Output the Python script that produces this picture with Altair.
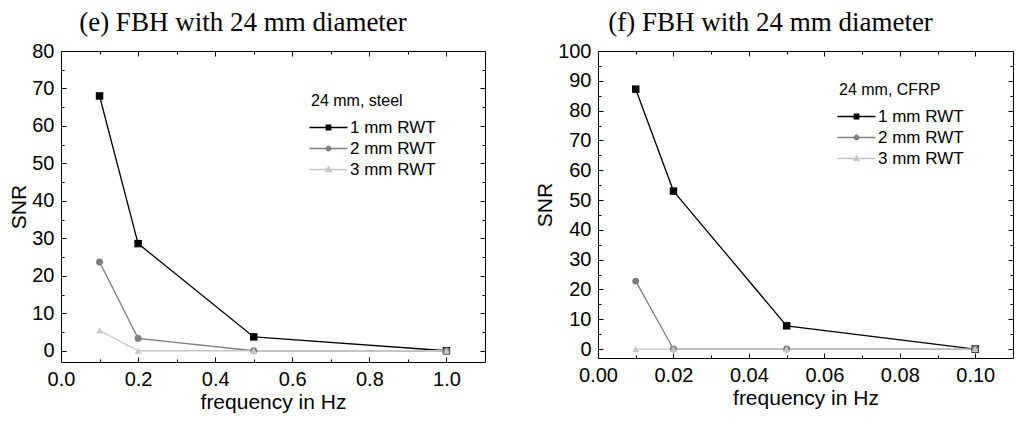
import altair as alt
import pandas as pd

SERIES = ["1 mm RWT", "2 mm RWT", "3 mm RWT"]
COLORS = ["#000000", "#7f7f7f", "#c6c6c6"]
SHAPES = ["square", "circle", "triangle-up"]
SIZES = [56, 48, 50]

# panel (e): steel
steel_freq = [0.1, 0.2, 0.5, 1.0]
steel_1mm = [68.0, 28.6, 3.7, 0.0]
steel_2mm = [23.7, 3.3, 0.0, 0.0]
steel_3mm = [5.4, 0.0, 0.0, 0.0]

# panel (f): CFRP
cfrp_freq = [0.01, 0.02, 0.05, 0.10]
cfrp_1mm = [87.2, 53.0, 7.8, 0.0]
cfrp_2mm = [22.8, 0.0, 0.0, 0.0]
cfrp_3mm = [0.0, 0.0, 0.0, 0.0]

steel_x_major = [0.0, 0.2, 0.4, 0.6, 0.8, 1.0]
steel_x_minor = [0.1, 0.3, 0.5, 0.7, 0.9]
steel_y_major = [0, 10, 20, 30, 40, 50, 60, 70, 80]
steel_y_minor = [5, 15, 25, 35, 45, 55, 65, 75]

cfrp_x_major = [0.0, 0.02, 0.04, 0.06, 0.08, 0.10]
cfrp_x_minor = [0.01, 0.03, 0.05, 0.07, 0.09]
cfrp_y_major = [0, 10, 20, 30, 40, 50, 60, 70, 80, 90, 100]
cfrp_y_minor = [5, 15, 25, 35, 45, 55, 65, 75, 85, 95]

SANS = "Liberation Sans"
SERIF = "Liberation Serif"

# legend symbols: a short line with the marker in the middle
LEG_PATHS = [
    "M-8.5,0H8.5M-1,-1H1V1H-1Z",
    "M-8.5,0H8.5M1,0A1,1,0,1,1,-1,0A1,1,0,1,1,1,0Z",
    "M-8.5,0H8.5M0,-1.2L1.2,0.9L-1.2,0.9Z",
]


def axis(orient, values, size, labels=False, fmt=None, title=None):
    # ticks point inward: the axis is moved inside the frame by its tick length
    kw = dict(orient=orient, values=values, domain=False, grid=False,
              tickSize=size, offset=-size, tickColor="black", tickWidth=1,
              labels=labels)
    if labels:
        kw.update(labelFont=SANS, labelFontSize=20, labelColor="black",
                  labelPadding=7, labelFlush=False, labelOverlap=False, format=fmt)
    if title:
        kw.update(title=title, titleFont=SANS, titleFontSize=21,
                  titleFontWeight="normal", titleColor="black", titlePadding=2)
    else:
        kw["title"] = None
    return alt.Axis(**kw)


def panel(freqs, series_vals, xmaj, xmin, ymaj, ymin, xdom, ydom, xfmt,
          title, tdx, leg_title, legx, legy, w, h):
    n = len(freqs)
    df = pd.DataFrame({
        "freq": freqs * 3,
        "snr": series_vals[0] + series_vals[1] + series_vals[2],
        "series": [SERIES[0]] * n + [SERIES[1]] * n + [SERIES[2]] * n,
    })
    xs = alt.Scale(domain=xdom, nice=False, zero=False)
    ys = alt.Scale(domain=ydom, nice=False, zero=False)
    base = alt.Chart(df)

    x_axes = [axis("bottom", xmaj, 5, True, xfmt, "frequency in Hz"),
              axis("bottom", xmin, 3), axis("top", xmaj, 5), axis("top", xmin, 3),
              None, None]
    y_axes = [axis("left", ymaj, 5, True, "d", "SNR"),
              axis("left", ymin, 3), axis("right", ymaj, 5), axis("right", ymin, 3),
              None, None]

    layers = []
    k = 0
    for i, s in enumerate(SERIES):
        layers.append(
            base.transform_filter(alt.datum.series == s)
            .mark_line(color=COLORS[i], strokeWidth=1.3)
            .encode(x=alt.X("freq:Q", scale=xs, axis=x_axes[k]),
                    y=alt.Y("snr:Q", scale=ys, axis=y_axes[k]))
        )
        k += 1
    for i, s in enumerate(SERIES):
        layers.append(
            base.transform_filter(alt.datum.series == s)
            .mark_point(shape=SHAPES[i], filled=True, size=SIZES[i], opacity=1,
                        color=COLORS[i])
            .encode(x=alt.X("freq:Q", scale=xs, axis=x_axes[k]),
                    y=alt.Y("snr:Q", scale=ys, axis=y_axes[k]))
        )
        k += 1

    leg = alt.Legend(
        title=leg_title, orient="none", legendX=legx, legendY=legy,
        titleFont=SANS, titleFontSize=16, titleFontWeight="normal", titleColor="black",
        labelFont=SANS, labelFontSize=17, labelColor="black",
        symbolSize=20, symbolOffset=9, labelOffset=13, rowPadding=3,
        titlePadding=10, padding=0, symbolStrokeWidth=1.3,
    )
    layers.append(
        base.transform_filter("false")
        .mark_point(filled=True, size=20, strokeWidth=1.3, opacity=1)
        .encode(
            color=alt.Color("series:N", scale=alt.Scale(domain=SERIES, range=COLORS), legend=leg),
            stroke=alt.Stroke("series:N", scale=alt.Scale(domain=SERIES, range=COLORS), legend=leg),
            shape=alt.Shape("series:N", scale=alt.Scale(domain=SERIES, range=LEG_PATHS), legend=leg),
        )
    )
    return alt.layer(*layers).resolve_axis(
        x="independent", y="independent"
    ).properties(
        width=w, height=h,
        title=alt.TitleParams(title, font=SERIF, fontSize=27, fontWeight="normal",
                              color="black", anchor="middle", frame="group",
                              dx=tdx, offset=4),
    )


left = panel(steel_freq, [steel_1mm, steel_2mm, steel_3mm],
             steel_x_major, steel_x_minor, steel_y_major, steel_y_minor,
             [0, 1.1], [-3, 80], ".1f",
             "(e) FBH with 24 mm diameter", -30, "24 mm, steel", 250, 42, 424, 311)
right = panel(cfrp_freq, [cfrp_1mm, cfrp_2mm, cfrp_3mm],
              cfrp_x_major, cfrp_x_minor, cfrp_y_major, cfrp_y_minor,
              [0, 0.11], [-3, 100], ".2f",
              "(f) FBH with 24 mm diameter", -35, "24 mm, CFRP", 241, 31, 415, 307)

chart = alt.hconcat(left, right, spacing=48).resolve_scale(
    color="independent", stroke="independent", shape="independent"
).resolve_legend(
    color="independent", stroke="independent", shape="independent"
).configure_view(
    stroke="black", strokeWidth=1
).properties(background="white", padding=0)

chart.save("out.html", embed_options={"renderer": "svg", "actions": False})
